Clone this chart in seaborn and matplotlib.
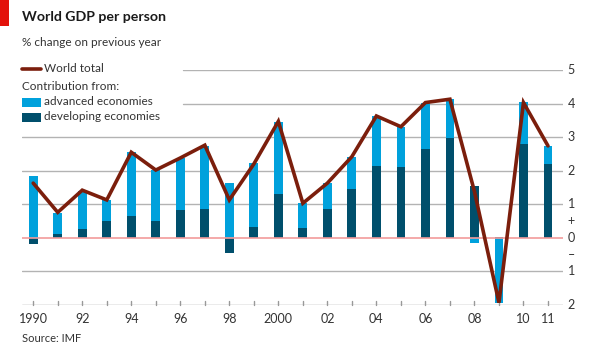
import matplotlib
matplotlib.use("Agg")
import matplotlib.pyplot as plt
import seaborn as sns
import numpy as np
import pandas as pd
from matplotlib.patches import Rectangle
from matplotlib.lines import Line2D

years = list(range(1990, 2012))
developing = [-0.19, 0.12, 0.27, 0.50, 0.64, 0.50, 0.84, 0.85, -0.46, 0.32, 1.30,
              0.29, 0.86, 1.45, 2.14, 2.11, 2.66, 2.97, 1.54, 0.03, 2.80, 2.20]
advanced = [1.85, 0.62, 1.13, 0.63, 1.91, 1.52, 1.53, 1.89, 1.63, 1.91, 2.15,
            0.74, 0.77, 0.97, 1.49, 1.20, 1.37, 1.16, -0.16, -1.93, 1.26, 0.54]
world_total = [1.63, 0.76, 1.42, 1.13, 2.55, 2.02, 2.38, 2.76, 1.13, 2.20, 3.47,
               1.03, 1.63, 2.42, 3.63, 3.31, 4.03, 4.13, 1.38, -1.93, 4.03, 2.74]
year_labels = {1990: "1990", 1992: "92", 1994: "94", 1996: "96", 1998: "98",
               2000: "2000", 2002: "02", 2004: "04", 2006: "06", 2008: "08",
               2010: "10", 2011: "11"}
y_ticks = [5, 4, 3, 2, 1, 0.5, 0, -0.5, -1, -2]
y_tick_labels = ["5", "4", "3", "2", "1", "+", "0", "\u2013", "1", "2"]

sns.set_theme(style="white")
FONT = ["Lato", "DejaVu Sans"]
plt.rcParams["font.family"] = FONT
S = 8.5
TS = 10.2

C_ADV = "#00a1dc"
C_DEV = "#004f6c"
C_LINE = "#7b1e0c"
C_TEXT = "#333333"
C_GRID = "#b3b3b3"
C_ZERO = "#f29b9b"

fig = plt.figure(figsize=(5.95, 3.5), dpi=100)
ax = fig.add_axes([21.7 / 595, 45 / 350, (562.7 - 21.7) / 595, 235 / 350])
ax.set_xlim(1989.53, 2011.6)
ax.set_ylim(-2, 5)
ax.axis("off")

# gridlines
for g in [3, 2, 1, -1]:
    ax.axhline(g, color=C_GRID, lw=1.0, zorder=0)
for g in [5, 4]:
    ax.axhline(g, xmin=(183 - 21.7) / (562.7 - 21.7), xmax=1, color=C_GRID, lw=1.0, zorder=0)
ax.axhline(-2, color="#999999", lw=1.0, zorder=0)

# stacked bars
dev = np.array(developing)
adv = np.array(advanced)
dev_bottom = np.zeros_like(dev)
adv_bottom = np.where((adv >= 0) == (dev >= 0), dev, 0.0)
bw = 0.36
ax.bar(years, dev, bottom=dev_bottom, width=bw, color=C_DEV, zorder=2, linewidth=0)
ax.bar(years, adv, bottom=adv_bottom, width=bw, color=C_ADV, zorder=2, linewidth=0)

ax.axhline(0, color=C_ZERO, lw=1.2, zorder=3)

df = pd.DataFrame({"year": years, "total": world_total})
sns.lineplot(data=df, x="year", y="total", ax=ax, color=C_LINE, lw=2.6, zorder=4,
             legend=False)
ax.lines[-1].set_solid_joinstyle("miter")

# x ticks
for y in years:
    ax.plot([y, y], [-2, -1.88], color="#999999", lw=1.0, zorder=1, clip_on=False)
for y, lab in year_labels.items():
    ax.text(y, -2.25, lab, ha="center", va="top", fontsize=S + 0.5, color=C_TEXT)

# right-side labels
for v, lab in zip(y_ticks, y_tick_labels):
    ax.text(2011.6 + 0.2, v, lab, ha="left", va="center", fontsize=S + 0.5, color=C_TEXT)

# titles
fig.add_artist(Rectangle((0, 1 - 26 / 350), 9 / 595, 26 / 350, transform=fig.transFigure,
                         color="#e3120b", lw=0))
fig.text(22 / 595, 1 - 17 / 350, "World GDP per person", fontsize=TS, fontweight="bold",
         color="#1a1a1a", ha="left", va="center")
fig.text(22 / 595, 1 - 42 / 350, "% change on previous year", fontsize=S,
         color=C_TEXT, ha="left", va="center")

# legend
fig.add_artist(Line2D([22 / 595, 41 / 595], [1 - 69 / 350] * 2, transform=fig.transFigure,
                      color=C_LINE, lw=2.6))
fig.text(44 / 595, 1 - 69 / 350, "World total", fontsize=S, color=C_TEXT, va="center")
fig.text(22 / 595, 1 - 86 / 350, "Contribution from:", fontsize=S, color=C_TEXT, va="center")
fig.add_artist(Rectangle((22 / 595, 1 - 107 / 350), 19 / 595, 9 / 350,
                         transform=fig.transFigure, color=C_ADV, lw=0))
fig.text(44 / 595, 1 - 102 / 350, "advanced economies", fontsize=S, color=C_TEXT, va="center")
fig.add_artist(Rectangle((22 / 595, 1 - 122 / 350), 19 / 595, 9 / 350,
                         transform=fig.transFigure, color=C_DEV, lw=0))
fig.text(44 / 595, 1 - 117 / 350, "developing economies", fontsize=S, color=C_TEXT, va="center")

fig.text(22 / 595, 1 - 338 / 350, "Source: IMF", fontsize=S - 0.5, color=C_TEXT, va="center")

fig.savefig("out.png", dpi=100, facecolor="white")
